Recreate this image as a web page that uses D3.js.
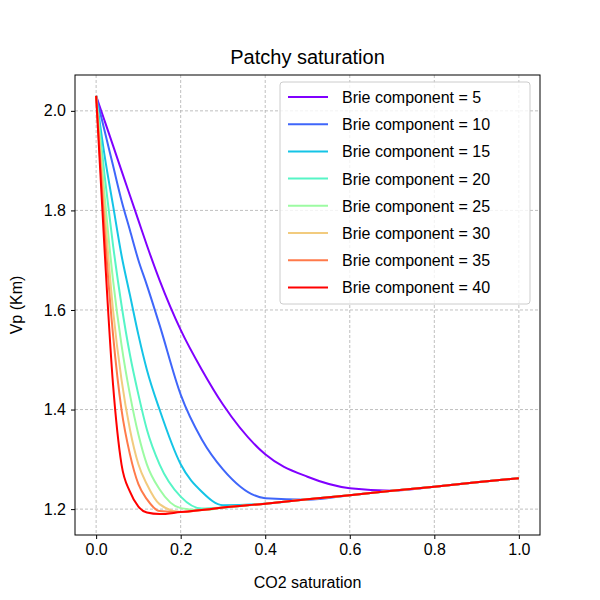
<!DOCTYPE html>
<html><head><meta charset="utf-8">
<script src="https://cdn.jsdelivr.net/npm/d3@7"></script>
<style>body{margin:0;background:#fff}text{font-family:"Liberation Sans",Arial,sans-serif}</style>
</head><body><svg width="600" height="600"></svg>
<script>
const sat = [0, 0.02, 0.04, 0.06, 0.08, 0.1, 0.12, 0.15, 0.2, 0.25, 0.3, 0.4, 0.5, 0.6, 0.7, 0.8, 0.9, 1.0]
const brie = [5, 10, 15, 20, 25, 30, 35, 40]
const colors = ["#8000ff", "#3f66fa", "#14c4e6", "#56f5c6", "#9cfba2", "#f2cb7e", "#ff7a4a", "#ff0000"]
const vp5 = [2.03, 1.98, 1.93, 1.88, 1.83, 1.78, 1.73, 1.66, 1.56, 1.48, 1.41, 1.31, 1.265, 1.242, 1.237, 1.245, 1.254, 1.262]
const vp10 = [2.03, 1.96, 1.89, 1.82, 1.76, 1.70, 1.65, 1.57, 1.43, 1.34, 1.28, 1.222, 1.219, 1.228, 1.237, 1.245, 1.254, 1.262]
const vp15 = [2.03, 1.91, 1.81, 1.71, 1.63, 1.55, 1.48, 1.40, 1.29, 1.235, 1.208, 1.211, 1.220, 1.228, 1.237, 1.245, 1.254, 1.262]
const vp20 = [2.03, 1.87, 1.73, 1.61, 1.51, 1.43, 1.36, 1.29, 1.225, 1.201, 1.203, 1.211, 1.220, 1.228, 1.237, 1.245, 1.254, 1.262]
const vp25 = [2.03, 1.83, 1.66, 1.53, 1.43, 1.35, 1.29, 1.24, 1.202, 1.198, 1.203, 1.211, 1.220, 1.228, 1.237, 1.245, 1.254, 1.262]
const vp30 = [2.03, 1.80, 1.60, 1.46, 1.36, 1.29, 1.25, 1.21, 1.194, 1.198, 1.203, 1.211, 1.220, 1.228, 1.237, 1.245, 1.254, 1.262]
const vp35 = [2.03, 1.76, 1.55, 1.40, 1.31, 1.25, 1.22, 1.196, 1.194, 1.198, 1.203, 1.211, 1.220, 1.228, 1.237, 1.245, 1.254, 1.262]
const vp40 = [2.03, 1.72, 1.45, 1.29, 1.235, 1.205, 1.193, 1.19, 1.194, 1.198, 1.203, 1.211, 1.220, 1.228, 1.237, 1.245, 1.254, 1.262]
const series = [vp5, vp10, vp15, vp20, vp25, vp30, vp35, vp40]
const xTicks = [0, 0.2, 0.4, 0.6, 0.8, 1.0]
const yTicks = [1.2, 1.4, 1.6, 1.8, 2.0]

const [pLeft, pRight, pTop, pBottom] = [75, 540, 75, 535]
const svg = d3.select("svg")
const x = d3.scaleLinear().domain([-0.05, 1.05]).range([pLeft, pRight])
const y = d3.scaleLinear().domain([1.148, 2.072]).range([pBottom, pTop])

// grid
svg.append("g").selectAll("line").data(xTicks).join("line")
  .attr("x1", d => x(d)).attr("x2", d => x(d)).attr("y1", pTop).attr("y2", pBottom)
  .attr("stroke", "#b0b0b0").attr("stroke-dasharray", "3,2").attr("stroke-width", 0.8)
svg.append("g").selectAll("line").data(yTicks).join("line")
  .attr("y1", d => y(d)).attr("y2", d => y(d)).attr("x1", pLeft).attr("x2", pRight)
  .attr("stroke", "#b0b0b0").attr("stroke-dasharray", "3,2").attr("stroke-width", 0.8)

const xAxis = svg.append("g").attr("transform", `translate(0,${pBottom})`)
  .call(d3.axisBottom(x).tickValues(xTicks).tickFormat(d3.format(".1f")).tickSize(4).tickPadding(5))
const yAxis = svg.append("g").attr("transform", `translate(${pLeft},0)`)
  .call(d3.axisLeft(y).tickValues(yTicks).tickFormat(d3.format(".1f")).tickSize(4).tickPadding(5))
for (const a of [xAxis, yAxis]) {
  a.select(".domain").remove()
  a.selectAll("text").attr("font-size", 16).attr("fill", "#000")
}

const line = d3.line().x((d, i) => x(sat[i])).y(d => y(d)).curve(d3.curveMonotoneX)
svg.append("g").selectAll("path").data(series).join("path")
  .attr("d", line).attr("fill", "none").attr("stroke", (d, i) => colors[i]).attr("stroke-width", 2)

svg.append("rect").attr("x", pLeft).attr("y", pTop).attr("width", pRight - pLeft).attr("height", pBottom - pTop)
  .attr("fill", "none").attr("stroke", "#000").attr("stroke-width", 1)

svg.append("text").attr("x", (pLeft + pRight) / 2).attr("y", 64).attr("text-anchor", "middle")
  .attr("font-size", 20).text("Patchy saturation")
svg.append("text").attr("x", (pLeft + pRight) / 2).attr("y", 588).attr("text-anchor", "middle")
  .attr("font-size", 16).text("CO2 saturation")
svg.append("text").attr("transform", `translate(22,${(pTop + pBottom) / 2}) rotate(-90)`)
  .attr("text-anchor", "middle").attr("font-size", 16).text("Vp (Km)")

// legend
const lg = svg.append("g")
lg.append("rect").attr("x", 280).attr("y", 82).attr("width", 250).attr("height", 222).attr("rx", 3)
  .attr("fill", "#fff").attr("fill-opacity", 0.8).attr("stroke", "#ccc")
const items = lg.selectAll("g.item").data(brie).join("g").attr("transform", (d, i) => `translate(288,${97 + i * 27.2})`)
items.append("line").attr("x1", 0).attr("x2", 40).attr("stroke", (d, i) => colors[i]).attr("stroke-width", 2)
items.append("text").attr("x", 54).attr("y", 6).attr("font-size", 16).text(d => `Brie component = ${d}`)
</script></body></html>
